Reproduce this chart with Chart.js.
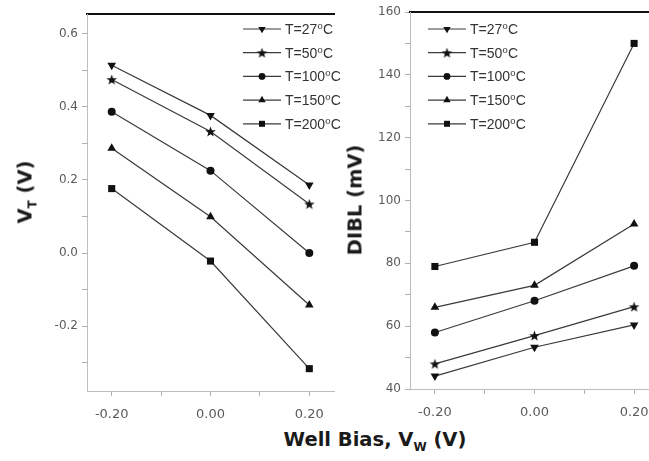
<!DOCTYPE html>
<html>
<head>
<meta charset="utf-8">
<script src="https://cdn.jsdelivr.net/npm/chart.js@4/dist/chart.umd.min.js"></script>
<style>
  html, body { margin: 0; padding: 0; background: #fff; }
  body { width: 649px; height: 461px; position: relative; overflow: hidden; }
  #leftBox { position: absolute; left: 0; top: 0; width: 345px; height: 425px; }
  #rightBox { position: absolute; left: 330px; top: 0; width: 319px; height: 425px; overflow: hidden; }
  #rightBox canvas { position: absolute; left: 0; top: 0; }
  .title { position: absolute; font-family: "DejaVu Sans", sans-serif; font-weight: bold;
           font-size: 19.5px; color: #1a1a1a; white-space: nowrap; }
  .title sub { font-size: 12px; vertical-align: -5px; line-height: 0; }
  .rot { transform: translate(-50%, -50%) rotate(-90deg); }
</style>
</head>
<body>
<div id="leftBox"><canvas id="vtChart" width="345" height="425"></canvas></div>
<div id="rightBox"><canvas id="diblChart" width="340" height="425"></canvas></div>
<div class="title rot" style="left:25px; top:192px;">V<sub>T</sub> (V)</div>
<div class="title rot" style="left:355px; top:200px;">DIBL (mV)</div>
<div class="title" style="left:375px; top:439px; transform: translate(-50%, -50%);">Well Bias, V<sub>W</sub> (V)</div>

<script>
// Well bias values (V) shared by both panels
const wellBias = [-0.2, 0.0, 0.2];

// Temperature series names
const tempLabels = ['T=27⁰C', 'T=50⁰C', 'T=100⁰C', 'T=150⁰C', 'T=200⁰C'];

// Threshold voltage V_T (V) per temperature
const vt27  = [0.513, 0.376, 0.186];
const vt50  = [0.474, 0.332, 0.134];
const vt100 = [0.386, 0.225, 0.000];
const vt150 = [0.286, 0.099, -0.142];
const vt200 = [0.176, -0.022, -0.316];

// DIBL (mV) per temperature
const dibl27  = [44.1, 53.3, 60.4];
const dibl50  = [48.0, 57.0, 66.2];
const dibl100 = [58.0, 68.1, 79.2];
const dibl150 = [66.0, 73.0, 92.5];
const dibl200 = [79.0, 86.7, 150.0];

// Axis ticks
const biasTicks = [-0.2, 0.0, 0.2];
const biasMinorTicks = [-0.1, 0.1];
const vtTicks = [-0.2, 0.0, 0.2, 0.4, 0.6];
const vtMinorTicks = [-0.3, -0.1, 0.1, 0.3, 0.5];
const diblTicks = [40, 60, 80, 100, 120, 140, 160];
const diblMinorTicks = [50, 70, 90, 110, 130, 150];

// Filled five-point star used as a marker
function starMarker(r) {
  const c = document.createElement('canvas');
  const s = Math.ceil(2 * r + 2);
  c.width = s; c.height = s;
  const g = c.getContext('2d');
  g.beginPath();
  for (let i = 0; i < 10; i++) {
    const rr = i % 2 === 0 ? r : r * 0.42;
    const a = -Math.PI / 2 + i * Math.PI / 5;
    const px = s / 2 + rr * Math.cos(a), py = s / 2 + rr * Math.sin(a) + 0.5;
    if (i === 0) g.moveTo(px, py); else g.lineTo(px, py);
  }
  g.closePath();
  g.fillStyle = '#111';
  g.fill();
  return c;
}

const markerStyles = [
  { pointStyle: 'triangle', pointRotation: 180, pointRadius: 5 },
  { pointStyle: starMarker(5.5), pointRotation: 0, pointRadius: 5 },
  { pointStyle: 'circle', pointRotation: 0, pointRadius: 4 },
  { pointStyle: 'triangle', pointRotation: 0, pointRadius: 5 },
  { pointStyle: 'rect', pointRotation: 0, pointRadius: 5 }
];

function makeDatasets(seriesList) {
  return seriesList.map((vals, i) => Object.assign({
    label: tempLabels[i],
    data: wellBias.map((x, k) => ({ x: x, y: vals[k] })),
    borderColor: '#3a3a3a',
    borderWidth: 1.2,
    backgroundColor: '#111',
    pointBackgroundColor: '#111',
    pointBorderColor: '#111',
    pointBorderWidth: 0,
    tension: 0
  }, markerStyles[i]));
}

// Legend drawn inside the plot area: line sample with marker, then the label
const insideLegend = {
  id: 'insideLegend',
  afterDatasetsDraw(chart, args, opts) {
    const ctx = chart.ctx;
    ctx.save();
    chart.data.datasets.forEach((ds, i) => {
      const y = opts.y + i * opts.spacing;
      ctx.strokeStyle = '#3a3a3a';
      ctx.lineWidth = 1.2;
      ctx.beginPath();
      ctx.moveTo(opts.x, y);
      ctx.lineTo(opts.x + opts.lineLen, y);
      ctx.stroke();
      ctx.fillStyle = '#111';
      ctx.strokeStyle = '#111';
      Chart.helpers.drawPoint(ctx, {
        pointStyle: ds.pointStyle,
        rotation: ds.pointRotation,
        radius: ds.pointRadius * 0.85,
        borderWidth: 0
      }, opts.x + opts.lineLen / 2, y);
      ctx.fillStyle = '#333';
      ctx.font = '14px "Liberation Sans", "DejaVu Sans", sans-serif';
      ctx.textBaseline = 'middle';
      ctx.textAlign = 'left';
      ctx.fillText(ds.label, opts.x + opts.lineLen + 4, y + 1);
    });
    ctx.restore();
  }
};

function setTicks(list) {
  return function (scale) { scale.ticks = list.map(v => ({ value: v })); };
}

function buildChart(canvasId, datasets, cfg) {
  return new Chart(document.getElementById(canvasId), {
    type: 'line',
    data: { datasets: datasets },
    plugins: [insideLegend],
    options: {
      responsive: false,
      animation: false,
      events: [],
      layout: { padding: { top: cfg.top, right: cfg.right, left: 0, bottom: 0 } },
      plugins: {
        legend: { display: false },
        tooltip: { enabled: false },
        insideLegend: cfg.legend
      },
      scales: {
        x: {
          type: 'linear',
          min: -0.25, max: 0.25,
          afterBuildTicks: setTicks(biasTicks.concat(biasMinorTicks).sort((a, b) => a - b)),
          afterFit: s => { s.height = cfg.xHeight; },
          border: { display: true, color: '#bdbdbd', width: 1 },
          grid: { drawOnChartArea: false, drawTicks: true, tickLength: 5, color: '#b0b0b0' },
          ticks: {
            padding: 11,
            color: '#5a5a5a',
            font: { family: '"DejaVu Sans", sans-serif', size: 13 },
            maxRotation: 0,
            autoSkip: false,
            callback: v => biasTicks.some(t => Math.abs(t - v) < 1e-9) ? v.toFixed(2) : ''
          }
        },
        xTop: {
          type: 'linear',
          position: 'top',
          min: -0.25, max: 0.25,
          afterFit: s => { s.height = 0; },
          border: { display: true, color: '#111', width: 2 },
          grid: { display: false },
          ticks: { display: false }
        },
        y: {
          min: cfg.yMin, max: cfg.yMax,
          afterBuildTicks: setTicks(cfg.yTicks.concat(cfg.yMinor).sort((a, b) => a - b)),
          afterFit: s => { s.width = cfg.yWidth; },
          border: { display: true, color: '#bdbdbd', width: 1 },
          grid: { drawOnChartArea: false, drawTicks: true, tickLength: 5, color: '#b0b0b0' },
          ticks: {
            padding: 4,
            color: '#5a5a5a',
            font: { family: '"DejaVu Sans", sans-serif', size: 12 },
            autoSkip: false,
            callback: v => cfg.yTicks.some(t => Math.abs(t - v) < 1e-9) ? cfg.fmt(v) : ''
          }
        }
      }
    }
  });
}

buildChart('vtChart', makeDatasets([vt27, vt50, vt100, vt150, vt200]), {
  top: 14, right: 11, xHeight: 34, yWidth: 87,
  yMin: -0.377, yMax: 0.653,
  yTicks: vtTicks, yMinor: vtMinorTicks,
  fmt: v => v.toFixed(1),
  legend: { x: 243, y: 29, spacing: 23.7, lineLen: 38 }
});

buildChart('diblChart', makeDatasets([dibl27, dibl50, dibl100, dibl150, dibl200]), {
  top: 12, right: 11, xHeight: 36, yWidth: 80,
  yMin: 40, yMax: 160,
  yTicks: diblTicks, yMinor: diblMinorTicks,
  fmt: v => String(v),
  legend: { x: 98, y: 29, spacing: 23.7, lineLen: 38 }
});
</script>
</body>
</html>
